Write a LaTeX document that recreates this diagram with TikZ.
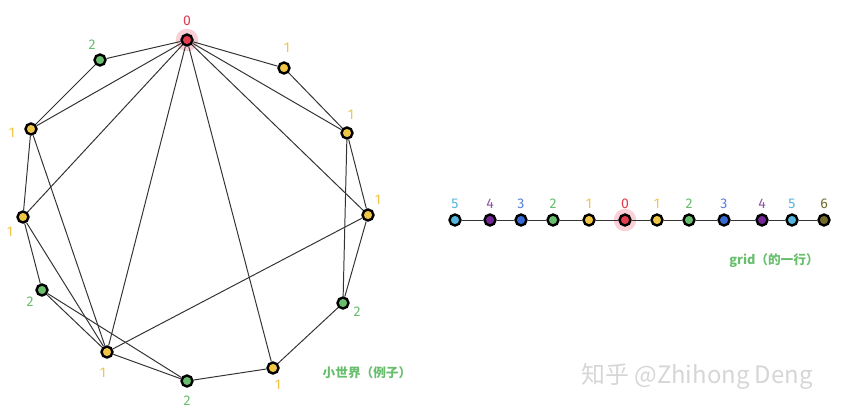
\documentclass[tikz,border=0pt]{standalone}
\usepackage{fontspec}
\setsansfont{Fira Sans}
\newfontfamily\cjk{Noto Sans CJK SC}
\usepackage{tikz}

\definecolor{hopzero}{RGB}{225,60,80}
\definecolor{hopone}{RGB}{240,198,70}
\definecolor{hoptwo}{RGB}{105,190,110}
\definecolor{hopthree}{RGB}{55,105,210}
\definecolor{hopfour}{RGB}{115,40,150}
\definecolor{hopfive}{RGB}{85,180,220}
\definecolor{hopsix}{RGB}{115,108,45}

\begin{document}
\begin{tikzpicture}[
    x = 0.025cm, y = -0.025cm,
    ball/.style = {circle, draw = black,
      line width = 1.7pt,
      inner sep = 0pt,
      minimum size = {7.8pt}},
    glow/.style = {circle, fill = hopzero!40,
      opacity = 0.6, minimum size = {16pt}},
    num/.style = {font = \sffamily\normalsize},
    title/.style = {font = \cjk\bfseries\small, text = hoptwo},
    link/.style = {draw = black!80, line width = 0.7pt},
    ]

    \useasboundingbox (0, 0) rectangle (849, 417);

    % small world
    \node at (187, 40) [glow, name = halo] {};
    \node at (187, 40) [ball, fill = hopzero, name = w0] {};
    \node at (100, 60) [ball, fill = hoptwo, name = wA] {};
    \node at (284, 68) [ball, fill = hopone, name = wB] {};
    \node at (31, 129) [ball, fill = hopone, name = wC] {};
    \node at (347, 133) [ball, fill = hopone, name = wD] {};
    \node at (23, 217) [ball, fill = hopone, name = wE] {};
    \node at (368, 215) [ball, fill = hopone, name = wF] {};
    \node at (42, 290) [ball, fill = hoptwo, name = wG] {};
    \node at (343, 303) [ball, fill = hoptwo, name = wH] {};
    \node at (107, 352) [ball, fill = hopone, name = wI] {};
    \node at (273, 368) [ball, fill = hopone, name = wJ] {};
    \node at (187, 381) [ball, fill = hoptwo, name = wK] {};

    \node at (187, 21) [num, text = hopzero, name = l0] {0};
    \node at (92, 45) [num, text = hoptwo, name = lA] {2};
    \node at (287, 48) [num, text = hopone, name = lB] {1};
    \node at (12, 133) [num, text = hopone, name = lC] {1};
    \node at (351, 115) [num, text = hopone, name = lD] {1};
    \node at (10, 232) [num, text = hopone, name = lE] {1};
    \node at (378, 200) [num, text = hopone, name = lF] {1};
    \node at (30, 302) [num, text = hoptwo, name = lG] {2};
    \node at (357, 312) [num, text = hoptwo, name = lH] {2};
    \node at (103, 373) [num, text = hopone, name = lI] {1};
    \node at (278, 385) [num, text = hopone, name = lJ] {1};
    \node at (187, 401) [num, text = hoptwo, name = lK] {2};

    \draw [link] (w0) -- (wA);
    \draw [link] (w0) -- (wB);
    \draw [link] (w0) -- (wC);
    \draw [link] (w0) -- (wD);
    \draw [link] (w0) -- (wE);
    \draw [link] (w0) -- (wF);
    \draw [link] (w0) -- (wI);
    \draw [link] (w0) -- (wJ);
    \draw [link] (wA) -- (wC);
    \draw [link] (wB) -- (wD);
    \draw [link] (wC) -- (wE);
    \draw [link] (wC) -- (wI);
    \draw [link] (wD) -- (wF);
    \draw [link] (wD) -- (wH);
    \draw [link] (wF) -- (wH);
    \draw [link] (wF) -- (wI);
    \draw [link] (wE) -- (wG);
    \draw [link] (wE) -- (wI);
    \draw [link] (wG) -- (wI);
    \draw [link] (wG) -- (wK);
    \draw [link] (wI) -- (wK);
    \draw [link] (wK) -- (wJ);
    \draw [link] (wJ) -- (wH);

    \node at (367, 373) [title, name = t_world] {小世界（例子）};

    % one row of the grid
    \node at (625, 220) [glow, name = halo_g] {};
    \node at (455, 220) [ball, fill = hopfive, name = g1] {};
    \node at (490, 220) [ball, fill = hopfour, name = g2] {};
    \node at (521, 220) [ball, fill = hopthree, name = g3] {};
    \node at (553, 220) [ball, fill = hoptwo, name = g4] {};
    \node at (589, 220) [ball, fill = hopone, name = g5] {};
    \node at (625, 220) [ball, fill = hopzero, name = g6] {};
    \node at (657, 220) [ball, fill = hopone, name = g7] {};
    \node at (689, 220) [ball, fill = hoptwo, name = g8] {};
    \node at (724, 220) [ball, fill = hopthree, name = g9] {};
    \node at (762, 220) [ball, fill = hopfour, name = g10] {};
    \node at (792, 220) [ball, fill = hopfive, name = g11] {};
    \node at (824, 220) [ball, fill = hopsix, name = g12] {};

    \draw [link] (g1) -- (g2);
    \draw [link] (g2) -- (g3);
    \draw [link] (g3) -- (g4);
    \draw [link] (g4) -- (g5);
    \draw [link] (g5) -- (g6);
    \draw [link] (g6) -- (g7);
    \draw [link] (g7) -- (g8);
    \draw [link] (g8) -- (g9);
    \draw [link] (g9) -- (g10);
    \draw [link] (g10) -- (g11);
    \draw [link] (g11) -- (g12);

    \node at (455, 204) [num, text = hopfive, name = m1] {5};
    \node at (490, 204) [num, text = hopfour!80, name = m2] {4};
    \node at (521, 204) [num, text = hopthree!85, name = m3] {3};
    \node at (553, 204) [num, text = hoptwo, name = m4] {2};
    \node at (589, 204) [num, text = hopone, name = m5] {1};
    \node at (625, 204) [num, text = hopzero, name = m6] {0};
    \node at (657, 204) [num, text = hopone, name = m7] {1};
    \node at (689, 204) [num, text = hoptwo, name = m8] {2};
    \node at (724, 204) [num, text = hopthree!85, name = m9] {3};
    \node at (762, 204) [num, text = hopfour!80, name = m10] {4};
    \node at (792, 204) [num, text = hopfive, name = m11] {5};
    \node at (824, 204) [num, text = hopsix, name = m12] {6};

    \node at (774, 261) [title, name = t_grid] {grid（的一行）};

    \node at (697, 376) [font = \cjk\fontsize{17}{20}\selectfont,
      text = black!16, name = mark] {知乎 @Zhihong Deng};

  \end{tikzpicture}
\end{document}
